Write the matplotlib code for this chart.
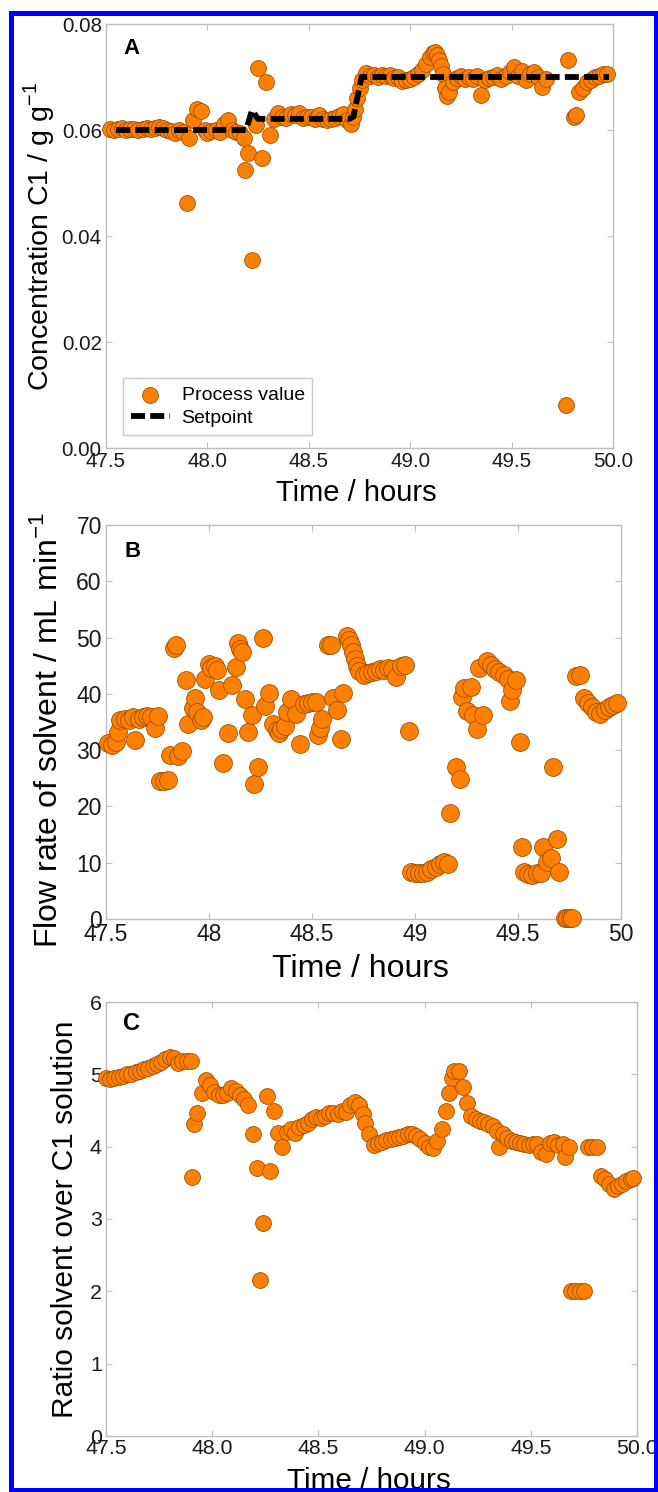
import matplotlib
matplotlib.use("Agg")
import matplotlib.pyplot as plt
from matplotlib.patches import Rectangle

plt.rcParams['font.family'] = ['Liberation Sans', 'DejaVu Sans']
plt.rcParams['mathtext.fontset'] = 'custom'
plt.rcParams['mathtext.rm'] = 'Liberation Sans'

# --- panel A: concentration C1 (g/g) ---
a_time = [47.52, 47.54, 47.56, 47.58, 47.60, 47.62, 47.64, 47.66, 47.68, 47.70,
          47.72, 47.74, 47.76, 47.78, 47.80, 47.82, 47.84, 47.86, 47.88, 47.90,
          47.91, 47.93, 47.95, 47.97, 47.99, 48.00, 48.02, 48.04, 48.06, 48.08,
          48.10, 48.12, 48.14, 48.16, 48.18, 48.185, 48.20, 48.22, 48.24, 48.25,
          48.27, 48.29, 48.31, 48.33, 48.35, 48.37, 48.39, 48.41, 48.43, 48.45,
          48.47, 48.49, 48.51, 48.53, 48.55, 48.57, 48.59, 48.61, 48.63, 48.65,
          48.67, 48.69, 48.71, 48.72, 48.73, 48.74, 48.75, 48.76, 48.78, 48.80,
          48.82, 48.84, 48.86, 48.88, 48.90, 48.92, 48.94, 48.96, 48.98, 49.00,
          49.02, 49.04, 49.06, 49.08, 49.10, 49.11, 49.12, 49.13, 49.14, 49.15,
          49.16, 49.17, 49.18, 49.19, 49.21, 49.23, 49.25, 49.27, 49.29, 49.31,
          49.33, 49.35, 49.37, 49.39, 49.41, 49.43, 49.45, 49.47, 49.49, 49.51,
          49.53, 49.55, 49.57, 49.59, 49.61, 49.63, 49.65, 49.67, 49.77, 49.78,
          49.81, 49.82, 49.83, 49.85, 49.87, 49.89, 49.91, 49.93, 49.95, 49.97]
a_conc = [0.0602, 0.0600, 0.0601, 0.0603, 0.0600, 0.0601, 0.0602, 0.0600, 0.0601, 0.0603,
          0.0602, 0.0604, 0.0606, 0.0603, 0.0600, 0.0598, 0.0595, 0.0600, 0.0597, 0.0462,
          0.0585, 0.0619, 0.0640, 0.0636, 0.0600, 0.0594, 0.0598, 0.0600, 0.0596, 0.0612,
          0.0619, 0.0600, 0.0597, 0.0595, 0.0585, 0.0525, 0.0557, 0.0355, 0.0610, 0.0717,
          0.0547, 0.0690, 0.0590, 0.0620, 0.0632, 0.0625, 0.0622, 0.0630, 0.0628, 0.0632,
          0.0622, 0.0625, 0.0624, 0.0620, 0.0628, 0.0621, 0.0618, 0.0620, 0.0622, 0.0627,
          0.0630, 0.0618, 0.0612, 0.0625, 0.0640, 0.0660, 0.0680, 0.0695, 0.0708, 0.0702,
          0.0704, 0.0700, 0.0703, 0.0701, 0.0704, 0.0698, 0.0700, 0.0693, 0.0695, 0.0697,
          0.0700, 0.0706, 0.0713, 0.0725, 0.0738, 0.0745, 0.0748, 0.0742, 0.0732, 0.0720,
          0.0705, 0.0680, 0.0665, 0.0672, 0.0690, 0.0698, 0.0701, 0.0696, 0.0700, 0.0697,
          0.0702, 0.0666, 0.0695, 0.0698, 0.0700, 0.0703, 0.0697, 0.0701, 0.0710, 0.0718,
          0.0702, 0.0712, 0.0695, 0.0705, 0.0710, 0.0700, 0.0682, 0.0697, 0.0081, 0.0732,
          0.0625, 0.0628, 0.0672, 0.0680, 0.0690, 0.0695, 0.0700, 0.0701, 0.0705, 0.0706]
sp_time = [47.55, 48.19, 48.22, 48.25, 48.70, 48.72, 48.76, 49.98]
sp_conc = [0.060, 0.060, 0.0637, 0.0621, 0.0621, 0.0625, 0.0700, 0.0700]

# --- panel B: solvent flow rate (mL/min) ---
b_time = [47.51, 47.53, 47.55, 47.56, 47.57, 47.59, 47.61, 47.63, 47.64, 47.66,
          47.68, 47.70, 47.72, 47.74, 47.75, 47.76, 47.78, 47.80, 47.81, 47.83,
          47.84, 47.85, 47.87, 47.89, 47.90, 47.92, 47.93, 47.94, 47.96, 47.97,
          47.98, 48.00, 48.01, 48.03, 48.04, 48.05, 48.07, 48.09, 48.11, 48.13,
          48.14, 48.15, 48.16, 48.175, 48.19, 48.21, 48.22, 48.24, 48.26, 48.27,
          48.29, 48.31, 48.33, 48.34, 48.35, 48.37, 48.38, 48.40, 48.42, 48.44,
          48.46, 48.48, 48.50, 48.52, 48.53, 48.54, 48.55, 48.58, 48.59, 48.60,
          48.62, 48.64, 48.65, 48.67, 48.68, 48.69, 48.70, 48.71, 48.72, 48.73,
          48.75, 48.77, 48.79, 48.81, 48.83, 48.85, 48.87, 48.89, 48.91, 48.93,
          48.95, 48.97, 48.98, 49.00, 49.02, 49.04, 49.06, 49.08, 49.10, 49.12,
          49.14, 49.16, 49.17, 49.20, 49.22, 49.23, 49.24, 49.25, 49.27, 49.28,
          49.30, 49.31, 49.33, 49.35, 49.37, 49.39, 49.41, 49.43, 49.45, 49.46,
          49.47, 49.49, 49.51, 49.52, 49.53, 49.55, 49.57, 49.59, 49.61, 49.62,
          49.64, 49.66, 49.67, 49.69, 49.70, 49.73, 49.74, 49.75, 49.76, 49.78,
          49.80, 49.82, 49.84, 49.86, 49.88, 49.90, 49.92, 49.94, 49.96, 49.98]
b_flow = [31.2, 31.0, 31.5, 33.2, 35.3, 35.6, 35.4, 35.8, 31.8, 35.5,
          35.8, 36.0, 35.9, 33.9, 36.0, 24.6, 24.6, 24.7, 29.1, 48.2,
          48.6, 29.0, 29.9, 42.5, 34.7, 37.5, 39.2, 36.8, 35.3, 35.8,
          42.6, 45.3, 44.6, 44.9, 44.2, 40.7, 27.7, 33.0, 41.6, 44.8,
          49.0, 48.0, 47.4, 39.1, 33.2, 36.2, 24.0, 27.0, 49.9, 37.8,
          40.1, 34.6, 33.5, 33.0, 33.8, 34.3, 36.7, 39.0, 36.5, 31.1,
          38.2, 38.4, 38.5, 38.6, 32.7, 34.0, 35.5, 48.6, 48.7, 39.3,
          37.1, 31.9, 40.1, 50.3, 49.6, 48.6, 47.4, 46.2, 45.0, 44.0,
          43.4, 43.7, 43.9, 44.1, 44.4, 44.2, 44.6, 44.5, 43.0, 45.0,
          45.2, 33.4, 8.3, 8.2, 8.1, 8.2, 8.4, 8.8, 9.3, 9.8,
          10.1, 9.7, 18.8, 27.0, 24.9, 39.5, 41.0, 37.0, 41.2, 36.2,
          33.8, 44.6, 36.2, 45.8, 45.2, 44.4, 43.8, 43.4, 42.7, 38.8,
          40.6, 42.5, 31.4, 12.8, 8.3, 8.0, 7.9, 8.1, 8.2, 12.8,
          10.2, 10.8, 27.0, 14.2, 8.3, 0.2, 0.1, 0.2, 0.1, 43.2,
          43.4, 39.3, 38.4, 37.6, 36.8, 36.5, 37.2, 37.6, 38.0, 38.3]

# --- panel C: ratio solvent / C1 solution ---
c_time = [47.50, 47.52, 47.54, 47.56, 47.58, 47.60, 47.62, 47.64, 47.66, 47.68,
          47.70, 47.72, 47.74, 47.76, 47.78, 47.80, 47.82, 47.84, 47.86, 47.88,
          47.90, 47.905, 47.915, 47.93, 47.95, 47.97, 47.99, 48.01, 48.03, 48.05,
          48.07, 48.09, 48.11, 48.13, 48.15, 48.17, 48.19, 48.21, 48.225, 48.24,
          48.26, 48.27, 48.29, 48.31, 48.33, 48.35, 48.37, 48.39, 48.41, 48.43,
          48.45, 48.47, 48.49, 48.51, 48.53, 48.55, 48.57, 48.59, 48.61, 48.63,
          48.65, 48.67, 48.69, 48.71, 48.72, 48.74, 48.76, 48.78, 48.80, 48.82,
          48.84, 48.86, 48.88, 48.90, 48.92, 48.94, 48.96, 48.98, 49.00, 49.02,
          49.04, 49.06, 49.08, 49.10, 49.115, 49.13, 49.14, 49.16, 49.18, 49.20,
          49.22, 49.24, 49.26, 49.28, 49.30, 49.32, 49.34, 49.35, 49.37, 49.39,
          49.41, 49.43, 49.45, 49.47, 49.49, 49.51, 49.53, 49.55, 49.57, 49.59,
          49.61, 49.63, 49.65, 49.66, 49.68, 49.69, 49.71, 49.73, 49.75, 49.77,
          49.79, 49.81, 49.83, 49.85, 49.87, 49.89, 49.91, 49.93, 49.95, 49.97,
          49.98]
c_ratio = [4.95, 4.94, 4.95, 4.97, 4.98, 5.00, 5.01, 5.03, 5.05, 5.07,
           5.09, 5.11, 5.14, 5.17, 5.21, 5.24, 5.22, 5.15, 5.18, 5.19,
           5.18, 3.58, 4.31, 4.46, 4.74, 4.92, 4.85, 4.76, 4.72, 4.71,
           4.74, 4.81, 4.77, 4.71, 4.66, 4.58, 4.18, 3.71, 2.16, 2.94,
           4.70, 3.66, 4.49, 4.19, 3.99, 4.20, 4.24, 4.19, 4.27, 4.30,
           4.33, 4.38, 4.41, 4.40, 4.43, 4.46, 4.47, 4.45, 4.50, 4.48,
           4.57, 4.62, 4.58, 4.45, 4.33, 4.18, 4.02, 4.05, 4.07, 4.09,
           4.10, 4.12, 4.13, 4.15, 4.17, 4.18, 4.15, 4.10, 4.05, 4.00,
           3.98, 4.08, 4.25, 4.49, 4.74, 4.95, 5.05, 5.04, 4.82, 4.60,
           4.42, 4.38, 4.36, 4.34, 4.31, 4.28, 4.22, 4.00, 4.18, 4.12,
           4.08, 4.06, 4.05, 4.03, 4.02, 4.04, 4.03, 3.93, 3.90, 4.05,
           4.07, 4.02, 4.04, 3.86, 4.00, 2.00, 2.00, 2.00, 2.00, 4.00,
           4.00, 4.00, 3.60, 3.55, 3.48, 3.42, 3.45, 3.48, 3.52, 3.55,
           3.56]

x_ticks = [47.5, 48.0, 48.5, 49.0, 49.5, 50.0]
x_labels_ac = ['47.5', '48.0', '48.5', '49.0', '49.5', '50.0']
x_labels_b = ['47.5', '48', '48.5', '49', '49.5', '50']
a_yticks = [0.00, 0.02, 0.04, 0.06, 0.08]
a_ylabels = ['0.00', '0.02', '0.04', '0.06', '0.08']
b_yticks = [0, 10, 20, 30, 40, 50, 60, 70]
c_yticks = [0, 1, 2, 3, 4, 5, 6]

W, H = 658, 1492
fig = plt.figure(figsize=(W / 100, H / 100), dpi=100)

def box(l, r, t, b):
    return [l / W, 1 - b / H, (r - l) / W, (b - t) / H]

orange = '#FF8000'
edge = '#A05000'
grey = '#BDBDBD'

def style(ax, tick_fs):
    for s in ax.spines.values():
        s.set_color(grey)
        s.set_linewidth(1.0)
    ax.tick_params(direction='in', length=4, width=0.8, color=grey,
                   top=True, right=True, labelsize=tick_fs, labelcolor='#1a1a1a', pad=3)

# panel A
axA = fig.add_axes(box(106, 613, 24, 448))
axA.scatter(a_time, a_conc, s=130, c=orange, edgecolors=edge, linewidths=0.6,
            zorder=3, clip_on=False, label='Process value')
axA.plot(sp_time, sp_conc, color='black', lw=4.2, dashes=(2.4, 0.9),
         zorder=4, label='Setpoint')
axA.set_xlim(47.5, 50.0)
axA.set_ylim(0, 0.08)
axA.set_xticks(x_ticks)
axA.set_xticklabels(x_labels_ac)
axA.set_yticks(a_yticks)
axA.set_yticklabels(a_ylabels)
style(axA, 14.8)
axA.set_xlabel('Time / hours', fontsize=21, va='baseline')
axA.xaxis.set_label_coords(0.493, -0.125)
axA.set_ylabel(r'Concentration C1 / g g$^{\mathregular{-1}}$', fontsize=20.5, va='center')
axA.yaxis.set_label_coords(-0.132, 0.5)
axA.text(0.034, 0.968, 'A', transform=axA.transAxes, fontsize=16, fontweight='bold', va='top')
leg = axA.legend(loc='lower left', bbox_to_anchor=(0.034, 0.031), borderaxespad=0,
                 fontsize=14, fancybox=False, handlelength=2.0, handletextpad=0.6,
                 labelspacing=0.3, borderpad=0.4)
leg.get_frame().set_edgecolor(grey)
leg.get_frame().set_linewidth(1.0)

# panel B
axB = fig.add_axes(box(106, 621, 525, 919))
axB.scatter(b_time, b_flow, s=165, c=orange, edgecolors=edge, linewidths=0.6,
            zorder=3, clip_on=False)
axB.set_xlim(47.5, 50.0)
axB.set_ylim(0, 70)
axB.set_xticks(x_ticks)
axB.set_xticklabels(x_labels_b)
axB.set_yticks(b_yticks)
style(axB, 16.5)
axB.set_xlabel('Time / hours', fontsize=23, va='baseline')
axB.xaxis.set_label_coords(0.495, -0.147)
axB.set_ylabel(r'Flow rate of solvent / mL min$^{\mathregular{-1}}$', fontsize=23, va='center')
axB.yaxis.set_label_coords(-0.113, 0.48)
axB.text(0.035, 0.960, 'B', transform=axB.transAxes, fontsize=16, fontweight='bold', va='top')

# panel C
axC = fig.add_axes(box(106, 637, 1002, 1436))
axC.scatter(c_time, c_ratio, s=130, c=orange, edgecolors=edge, linewidths=0.6,
            zorder=3, clip_on=False)
axC.set_xlim(47.5, 50.0)
axC.set_ylim(0, 6)
axC.set_xticks(x_ticks)
axC.set_xticklabels(x_labels_ac)
axC.set_yticks(c_yticks)
style(axC, 15.4)
axC.tick_params(axis='x', pad=2)
axC.set_xlabel('Time / hours', fontsize=21.4, va='baseline')
axC.xaxis.set_label_coords(0.496, -0.122)
axC.set_ylabel('Ratio solvent over C1 solution', fontsize=21.5, va='center')
axC.yaxis.set_label_coords(-0.077, 0.5)
axC.text(0.032, 0.978, 'C', transform=axC.transAxes, fontsize=17, fontweight='bold', va='top')

# blue frame round the whole picture
fig.patches.append(Rectangle((10.5 / W, 1 - 1490 / H), (656 - 10.5) / W, (1490 - 12.5) / H,
                             transform=fig.transFigure, fill=False,
                             edgecolor='#0000FF', lw=3.6, zorder=10))

fig.savefig('out.png', dpi=100)
